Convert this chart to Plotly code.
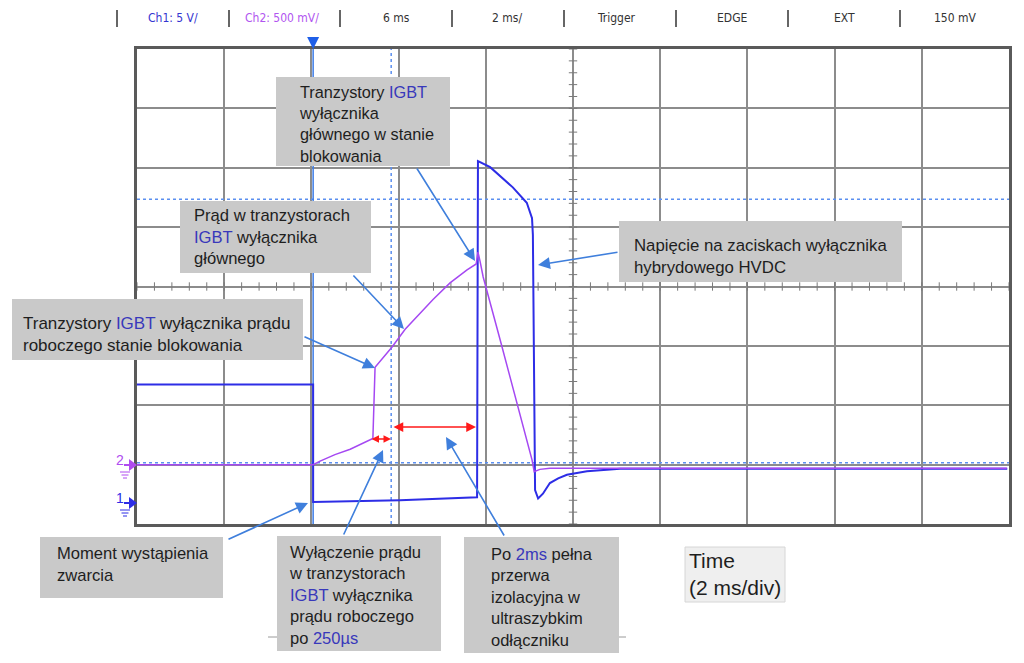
import numpy as np
import plotly.graph_objects as go

# ---------------- data (time in ms from screen left edge, voltages in V) -------------
# Channel 1: 5 V/div  (voltage across hybrid HVDC breaker)
ch1_t = [0.0, 4.04, 4.04, 6.03, 7.80, 7.82, 8.10, 8.62, 8.94, 9.06, 9.08, 9.13, 9.20,
         9.31, 9.47, 9.66, 9.86, 10.32, 11.08, 19.96]
ch1_v = [10.0, 10.0, 0.1, 0.25, 0.5, 28.8, 28.3, 26.6, 25.3, 24.0, 22.6, 1.1, 0.4,
         0.8, 1.7, 2.1, 2.4, 2.7, 2.9, 2.9]
# Channel 2: 500 mV/div (current probe signal)
ch2_t = [0.0, 4.04, 4.20, 4.54, 4.89, 5.11, 5.39, 5.41, 5.46, 5.85, 6.15, 6.79, 7.18,
         7.57, 7.78, 7.82, 7.87, 7.94, 8.33, 8.72, 9.06, 9.11, 9.24, 9.47, 19.95]
ch2_v = [0.0, 0.0, 0.03, 0.084, 0.13, 0.17, 0.22, 0.22, 0.82, 0.99, 1.14, 1.39, 1.53,
         1.64, 1.69, 1.79, 1.71, 1.58, 1.05, 0.52, 0.04, -0.06, -0.04, -0.03, -0.03]

CH1_SCALE, CH1_GND = 5.0, -3.65     # V/div, ground offset in divisions
CH2_SCALE, CH2_GND = 0.5, -3.0

trigger_t = 4.04
cursor_t = 5.83
cursor_levels = [1.47, -2.97]       # divisions

header_labels = ["Ch1: 5 V/", "Ch2: 500 mV/", "6 ms", "2 ms/", "Trigger", "EDGE", "EXT", "150 mV"]
header_colors = ["#3434d0", "#b155f0", "#333", "#333", "#333", "#333", "#333", "#333"]
header_x = [173, 282, 396, 507, 616, 732, 844, 955]
header_sep = [117, 229, 340, 452, 564, 676, 788, 900]

# ---------------- geometry helpers ----------------
W, H = 1024, 663
L, R, T, B = 137, 1009, 49, 524
def px(x): return x / W
def py(y): return 1 - y / H
def p2t(x): return (x - L) / (R - L) * 20
def p2d(y): return 4 - (y - T) / (B - T) * 8

ch1_y = [CH1_GND + v / CH1_SCALE for v in ch1_v]
ch2_y = [CH2_GND + v / CH2_SCALE for v in ch2_v]

BLUE = "#2d2de6"
PURPLE = "#a548f2"
LBLUE = "#3c7be6"
IG = "#3838bb"

fig = go.Figure()

# centre-line minor ticks
fig.add_trace(go.Scatter(x=np.arange(0, 20.01, 0.4), y=[0] * 51, mode="markers",
                         marker=dict(symbol="line-ns", size=6, line=dict(width=1, color="#7a7a7a")),
                         hoverinfo="skip", showlegend=False))
fig.add_trace(go.Scatter(x=[10] * 41, y=np.arange(-4, 4.01, 0.2), mode="markers",
                         marker=dict(symbol="line-ew", size=6, line=dict(width=1, color="#7a7a7a")),
                         hoverinfo="skip", showlegend=False))
# cursors
for lv in cursor_levels:
    fig.add_trace(go.Scatter(x=[0, 20], y=[lv, lv], mode="lines",
                             line=dict(color="#5b8ff0", width=1.5, dash="dot"),
                             hoverinfo="skip", showlegend=False))
fig.add_trace(go.Scatter(x=[cursor_t, cursor_t], y=[-4, 4], mode="lines",
                         line=dict(color="#5b8ff0", width=1.5, dash="dot"),
                         hoverinfo="skip", showlegend=False))
fig.add_trace(go.Scatter(x=[trigger_t, trigger_t], y=[-4, 4], mode="lines",
                         line=dict(color=LBLUE, width=1.5), hoverinfo="skip", showlegend=False))
# traces
fig.add_trace(go.Scatter(x=ch1_t, y=ch1_y, mode="lines", line=dict(color=BLUE, width=2),
                         name="Ch1", showlegend=False))
fig.add_trace(go.Scatter(x=ch2_t, y=ch2_y, mode="lines", line=dict(color=PURPLE, width=1.5),
                         name="Ch2", showlegend=False))

shapes = []
annotations = []

# trigger marker (down triangle above the grid)
tx = L + trigger_t / 20 * (R - L)
shapes.append(dict(type="path", xref="paper", yref="paper",
                   path=f"M {px(tx-6)} {py(37)} L {px(tx+6)} {py(37)} L {px(tx)} {py(49)} Z",
                   fillcolor="#1f5fe8", line=dict(width=0)))

# header
for lab, col, xc in zip(header_labels, header_colors, header_x):
    annotations.append(dict(xref="paper", yref="paper", x=px(xc), y=py(18), text=lab,
                            showarrow=False, xanchor="center", yanchor="middle",
                            font=dict(family="DejaVu Sans Condensed, Liberation Sans Narrow, Arial",
                                      size=12, color=col)))
for xs in header_sep:
    shapes.append(dict(type="line", xref="paper", yref="paper", x0=px(xs), x1=px(xs),
                       y0=py(10), y1=py(27), line=dict(color="#333", width=1.5)))

# ground markers
for lab, col, yy in [("2", "#b04cf0", 465), ("1", "#2d2de6", 503)]:
    annotations.append(dict(xref="paper", yref="paper", x=px(120), y=py(yy - 5), text=lab,
                            showarrow=False, xanchor="center", yanchor="middle",
                            font=dict(family="Liberation Sans, Arial", size=14, color=col)))
    shapes.append(dict(type="line", xref="paper", yref="paper", x0=px(124), x1=px(131),
                       y0=py(yy), y1=py(yy), line=dict(color=col, width=2)))
    shapes.append(dict(type="path", xref="paper", yref="paper",
                       path=f"M {px(129)} {py(yy-6)} L {px(137)} {py(yy)} L {px(129)} {py(yy+6)} Z",
                       fillcolor=col, line=dict(color=col, width=0)))
    for dy, hw in [(7, 5), (10, 3.5), (13, 2)]:
        shapes.append(dict(type="line", xref="paper", yref="paper", x0=px(125 - hw), x1=px(125 + hw),
                           y0=py(yy + dy), y1=py(yy + dy), line=dict(color=col, width=1)))

# faint stray stubs below boxes
for a, b in [(268, 278), (618, 626)]:
    shapes.append(dict(type="line", xref="paper", yref="paper", x0=px(a), x1=px(b),
                       y0=py(637), y1=py(637), line=dict(color="#9a9a9a", width=1)))

# text boxes: (box px), text left, first-line centre, lines, font size
def blue(s): return f'<span style="color:{IG}">{s}</span>'
boxes = [
    ((276, 77, 450, 166), 297, 92, ["Tranzystory " + blue("IGBT"), "wyłącznika", "głównego w stanie", "blokowania"], 16.3),
    ((180, 201, 371, 273), 192, 215, ["Prąd w tranzystorach", blue("IGBT") + " wyłącznika", "głównego"], 16.6),
    ((619, 221, 902, 282), 632, 245, ["Napięcie na zaciskach wyłącznika", "hybrydowego HVDC"], 16.8),
    ((12, 299, 303, 360), 21, 323, ["Tranzystory " + blue("IGBT") + " wyłącznika prądu", "roboczego stanie blokowania"], 17),
    ((40, 537, 223, 598), 55, 553, ["Moment wystąpienia", "zwarcia"], 16.6),
    ((277, 536, 441, 651), 287, 552, ["Wyłączenie prądu", "w tranzystorach", blue("IGBT") + " wyłącznika",
                                      "prądu roboczego", "po " + blue("250µs")], 16.5),
    ((464, 537, 619, 653), 489, 554, ["Po " + blue("2ms") + " pełna", "przerwa", "izolacyjna w",
                                      "ultraszybkim", "odłączniku"], 16.5),
]
for (x0, y0, x1, y1), tx_, fl, lines, fs in boxes:
    shapes.append(dict(type="rect", xref="paper", yref="paper", layer="above",
                       x0=px(x0), x1=px(x1), y0=py(y0), y1=py(y1),
                       fillcolor="#c9c9c9", line=dict(width=0)))
    annotations.append(dict(xref="paper", yref="paper", x=px(tx_), y=py(fl - fs * 0.65),
                            text="<br>".join(lines), showarrow=False, xanchor="left", yanchor="top",
                            align="left", font=dict(family="Liberation Sans, Arial", size=fs, color="#1e1e1e")))
# Time box
shapes.append(dict(type="rect", xref="paper", yref="paper", layer="above",
                   x0=px(685), x1=px(785), y0=py(547), y1=py(602),
                   fillcolor="#efefef", line=dict(color="#d6d6d6", width=1)))
annotations.append(dict(xref="paper", yref="paper", x=px(687), y=py(561 - 21 * 0.65),
                        text="Time<br>(2 ms/div)", showarrow=False, xanchor="left", yanchor="top",
                        align="left", font=dict(family="Liberation Sans, Arial", size=21, color="#1e1e1e")))

# callout arrows (tail px -> head px)
callouts = [((416, 167), (475, 261)), ((352, 274), (404, 329)), ((619, 252), (538, 265)),
            ((303, 336), (375, 368)), ((227, 540), (308, 503)), ((343, 536), (383, 450)),
            ((505, 537), (446, 437))]
for (ax_, ay_), (hx, hy) in callouts:
    annotations.append(dict(xref="x", yref="y", axref="x", ayref="y", x=p2t(hx), y=p2d(hy),
                            ax=p2t(ax_), ay=p2d(ay_), text="", showarrow=True, arrowhead=2,
                            arrowsize=1.5, arrowwidth=1.6, arrowcolor="#3f7fdc"))
# red double arrows
for (x0, x1, yy, sz) in [(370, 391, 439, 1.0), (392, 476, 427, 1.3)]:
    annotations.append(dict(xref="x", yref="y", axref="x", ayref="y", x=p2t(x1), y=p2d(yy),
                            ax=p2t(x0), ay=p2d(yy), text="", showarrow=True, arrowhead=2,
                            arrowside="end+start", arrowsize=sz, arrowwidth=1.5, arrowcolor="#ff1a1a"))

fig.update_layout(
    width=W, height=H, margin=dict(l=0, r=0, t=0, b=0),
    paper_bgcolor="white", plot_bgcolor="white",
    xaxis=dict(domain=[px(L), px(R)], range=[0, 20], dtick=2, showgrid=True, gridcolor="#8c8c8c",
               gridwidth=1.5, zeroline=False, showticklabels=False, ticks="",
               showline=True, mirror=True, linecolor="#5a5a5a", linewidth=3),
    yaxis=dict(domain=[py(B), py(T)], range=[-4, 4], dtick=1, showgrid=True, gridcolor="#8c8c8c",
               gridwidth=1.5, zeroline=False, showticklabels=False, ticks="",
               showline=True, mirror=True, linecolor="#5a5a5a", linewidth=3),
    shapes=shapes, annotations=annotations, showlegend=False,
)
fig.write_html("out.html")
